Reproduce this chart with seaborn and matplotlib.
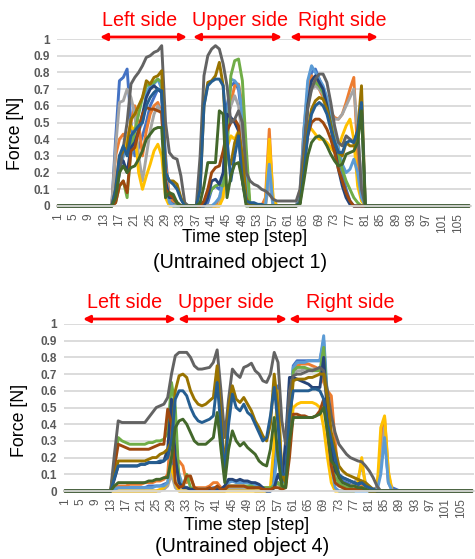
import numpy as np
import pandas as pd
import matplotlib
matplotlib.use("Agg")
import matplotlib.pyplot as plt
import seaborn as sns
from matplotlib.patches import FancyArrowPatch

# ---------------- data ----------------
steps = list(range(1, 109))
series_names = ["S1", "S2", "S3", "S4", "S5", "S6", "S7", "S8", "S9", "S10", "S11", "S12"]
colors = ["#4472C4", "#ED7D31", "#A5A5A5", "#FFC000", "#5B9BD5", "#70AD47",
          "#264478", "#9E480E", "#636363", "#997300", "#255E91", "#43682B"]
xtick_labels = ["1", "5", "9", "13", "17", "21", "25", "29", "33", "37", "41", "45", "49",
                "53", "57", "61", "65", "69", "73", "77", "81", "85", "89", "93", "97", "101", "105"]
xtick_steps = [1, 5, 9, 13, 17, 21, 25, 29, 33, 37, 41, 45, 49, 53, 57, 61, 65, 69, 73, 77,
               81, 85, 89, 93, 97, 101, 105]
ytick_vals = [0, 0.1, 0.2, 0.3, 0.4, 0.5, 0.6, 0.7, 0.8, 0.9, 1.0]
ytick_labels = ["0", "0.1", "0.2", "0.3", "0.4", "0.5", "0.6", "0.7", "0.8", "0.9", "1"]
section_labels = ["Left side", "Upper side", "Right side"]
captions = ["(Untrained object 1)", "(Untrained object 4)"]

# ---- Untrained object 1 ----
t1 = [0,0,0,0,0,0,0,0,0,0,
      0,0,0,0,0,0.4,0.75,0.77,0.82,0.5,
      0.3,0.35,0.42,0.5,0.6,0.65,0.7,0.68,0.3,0.03,
      0.02,0,0,0,0,0,0,0,0,0.02,
      0.1,0.12,0.1,0.15,0.6,0.72,0.74,0.7,0.5,0.1,
      0,0,0,0,0,0,0,0,0,0,
      0,0,0,0.02,0.35,0.65,0.8,0.82,0.76,0.7,
      0.62,0.52,0.4,0.3,0.2,0.1,0.03,0,0,0,
      0,0,0,0,0,0,0,0,0,0,
      0,0,0,0,0,0,0,0,0,0,
      0,0,0,0,0,0,0,0]
t2 = [0,0,0,0,0,0,0,0,0,0,
      0,0,0,0,0,0.3,0.4,0.43,0.4,0.5,
      0.6,0.5,0.3,0.45,0.55,0.6,0.62,0.55,0.25,0.05,
      0.03,0.02,0,0,0,0,0,0,0,0,
      0,0,0.05,0.1,0.5,0.62,0.72,0.73,0.6,0.2,
      0,0,0,0,0.05,0.46,0.02,0,0,0,
      0,0,0,0.05,0.45,0.7,0.78,0.75,0.7,0.65,
      0.6,0.56,0.53,0.52,0.55,0.62,0.7,0.77,0.3,0.05,
      0,0,0,0,0,0,0,0,0,0,
      0,0,0,0,0,0,0,0,0,0,
      0,0,0,0,0,0,0,0]
t3 = [0,0,0,0,0,0,0,0,0,0,
      0,0,0,0,0,0.35,0.62,0.63,0.7,0.65,
      0.55,0.3,0.15,0.3,0.45,0.55,0.6,0.55,0.2,0.02,
      0,0,0,0,0,0,0,0,0,0,
      0,0,0,0.15,0.5,0.6,0.66,0.6,0.4,0.1,
      0,0,0,0,0,0.15,0,0,0,0,
      0,0,0,0.1,0.45,0.62,0.7,0.72,0.7,0.67,
      0.6,0.55,0.52,0.52,0.55,0.6,0.65,0.7,0.45,0.15,
      0,0,0,0,0,0,0,0,0,0,
      0,0,0,0,0,0,0,0,0,0,
      0,0,0,0,0,0,0,0]
t4 = [0,0,0,0,0,0,0,0,0,0,
      0,0,0,0,0,0.05,0.25,0.3,0.4,0.48,
      0.45,0.2,0.1,0.18,0.25,0.33,0.37,0.3,0.05,0,
      0,0,0,0,0,0,0,0,0,0,
      0,0,0,0.05,0.35,0.42,0.4,0.45,0.3,0.05,
      0,0,0,0,0,0.4,0.05,0,0,0,
      0,0,0,0.02,0.3,0.48,0.46,0.43,0.4,0.4,
      0.38,0.35,0.32,0.35,0.42,0.48,0.52,0.4,0.12,0.03,
      0,0,0,0,0,0,0,0,0,0,
      0,0,0,0,0,0,0,0,0,0,
      0,0,0,0,0,0,0,0]
t5 = [0,0,0,0,0,0,0,0,0,0,
      0,0,0,0,0,0.05,0.2,0.3,0.35,0.3,
      0.4,0.45,0.5,0.68,0.72,0.73,0.76,0.7,0.15,0.02,
      0,0,0,0,0,0,0,0,0,0,
      0,0.02,0.05,0.15,0.5,0.76,0.75,0.72,0.55,0.15,
      0,0,0,0,0,0.25,0,0,0,0,
      0,0,0,0.05,0.45,0.75,0.84,0.8,0.76,0.72,
      0.65,0.55,0.45,0.35,0.25,0.2,0.22,0.28,0.2,0.05,
      0,0,0,0,0,0,0,0,0,0,
      0,0,0,0,0,0,0,0,0,0,
      0,0,0,0,0,0,0,0]
t6 = [0,0,0,0,0,0,0,0,0,0,
      0,0,0,0,0,0.02,0.12,0.15,0.05,0.35,
      0.45,0.55,0.65,0.72,0.73,0.74,0.76,0.74,0.1,0.08,
      0.05,0.01,0,0,0,0,0,0,0.02,0.05,
      0.1,0.12,0.13,0.12,0.3,0.78,0.87,0.88,0.75,0.35,
      0,0,0,0,0,0,0,0,0,0,
      0,0,0,0.02,0.3,0.6,0.72,0.74,0.72,0.68,
      0.6,0.5,0.38,0.3,0.22,0.15,0.1,0.05,0.02,0,
      0,0,0,0,0,0,0,0,0,0,
      0,0,0,0,0,0,0,0,0,0,
      0,0,0,0,0,0,0,0]
t7 = [0,0,0,0,0,0,0,0,0,0,
      0,0,0,0,0,0.05,0.25,0.27,0.2,0.35,
      0.38,0.45,0.55,0.65,0.7,0.72,0.7,0.68,0.15,0.05,
      0.05,0.02,0,0,0,0,0,0,0,0.05,
      0.15,0.16,0.13,0.2,0.55,0.53,0.5,0.45,0.15,0.02,
      0,0,0,0,0,0,0,0,0,0,
      0,0,0,0.02,0.3,0.6,0.75,0.78,0.74,0.7,
      0.6,0.48,0.35,0.22,0.12,0.05,0.01,0,0,0,
      0,0,0,0,0,0,0,0,0,0,
      0,0,0,0,0,0,0,0,0,0,
      0,0,0,0,0,0,0,0]
t8 = [0,0,0,0,0,0,0,0,0,0,
      0,0,0,0,0,0.02,0.12,0.15,0.08,0.33,
      0.35,0.45,0.55,0.59,0.58,0.58,0.57,0.56,0.1,0.07,
      0.05,0.02,0,0,0,0,0,0,0.03,0.1,
      0.2,0.23,0.24,0.33,0.45,0.5,0.52,0.48,0.25,0.02,
      0,0,0,0,0,0,0,0,0,0,
      0,0,0,0.02,0.25,0.42,0.5,0.52,0.52,0.5,
      0.46,0.4,0.32,0.22,0.15,0.08,0.03,0,0,0,
      0,0,0,0,0,0,0,0,0,0,
      0,0,0,0,0,0,0,0,0,0,
      0,0,0,0,0,0,0,0]
t9 = [0,0,0,0,0,0,0,0,0,0,
      0,0,0,0,0,0.05,0.2,0.35,0.5,0.73,
      0.77,0.8,0.84,0.89,0.9,0.92,0.93,0.96,0.5,0.32,
      0.29,0.28,0.18,0.02,0,0,0,0.3,0.78,0.9,
      0.94,0.96,0.94,0.85,0.72,0.5,0.52,0.57,0.5,0.2,
      0.15,0.13,0.12,0.1,0.09,0.07,0.04,0.03,0.03,0.03,
      0.03,0.03,0.03,0.1,0.35,0.58,0.7,0.76,0.79,0.79,
      0.74,0.62,0.48,0.38,0.36,0.42,0.4,0.38,0.45,0.1,
      0,0,0,0,0,0,0,0,0,0,
      0,0,0,0,0,0,0,0,0,0,
      0,0,0,0,0,0,0,0]
t10 = [0,0,0,0,0,0,0,0,0,0,
       0,0,0,0,0,0.1,0.3,0.33,0.35,0.52,
       0.55,0.6,0.65,0.75,0.73,0.77,0.78,0.81,0.2,0.15,
       0.15,0.13,0.05,0,0,0,0,0.1,0.6,0.74,
       0.75,0.78,0.86,0.72,0.3,0.25,0.38,0.44,0.3,0.05,
       0,0,0,0,0,0,0,0,0,0,
       0,0,0,0.02,0.25,0.45,0.58,0.63,0.65,0.64,
       0.58,0.48,0.38,0.32,0.3,0.38,0.36,0.36,0.45,0.72,
       0,0,0,0,0,0,0,0,0,0,
       0,0,0,0,0,0,0,0,0,0,
       0,0,0,0,0,0,0,0]
t11 = [0,0,0,0,0,0,0,0,0,0,
       0,0,0,0,0,0.1,0.3,0.36,0.3,0.42,
       0.45,0.48,0.5,0.6,0.65,0.68,0.7,0.69,0.2,0.15,
       0.13,0.1,0.04,0,0,0,0,0.1,0.6,0.72,
       0.745,0.76,0.76,0.72,0.4,0.15,0.3,0.42,0.15,0.03,
       0.02,0.02,0.01,0.01,0,0,0,0,0,0,
       0,0,0,0.02,0.2,0.42,0.55,0.6,0.62,0.6,
       0.55,0.46,0.38,0.32,0.32,0.38,0.39,0.38,0.45,0.62,
       0,0,0,0,0,0,0,0,0,0,
       0,0,0,0,0,0,0,0,0,0,
       0,0,0,0,0,0,0,0]
t12 = [0,0,0,0,0,0,0,0,0,0,
       0,0,0,0,0,0.05,0.2,0.24,0.2,0.23,
       0.24,0.28,0.33,0.4,0.43,0.46,0.47,0.47,0.05,0.08,
       0.07,0.02,0,0,0,0,0,0.02,0.12,0.26,
       0.26,0.26,0.57,0.55,0.05,0.18,0.25,0.26,0.15,0,
       0,0,0,0,0,0,0,0,0,0,
       0,0,0,0.01,0.15,0.3,0.38,0.41,0.42,0.4,
       0.36,0.31,0.27,0.24,0.25,0.31,0.32,0.33,0.38,0.57,
       0,0,0,0,0,0,0,0,0,0,
       0,0,0,0,0,0,0,0,0,0,
       0,0,0,0,0,0,0,0]

# ---- Untrained object 4 ----
b1 = [0,0,0,0,0,0,0,0,0,0,
      0,0,0,0.01,0.02,0.02,0.02,0.02,0.02,0.02,
      0.02,0.02,0.03,0.03,0.03,0.03,0.04,0.05,0.15,0.2,
      0.05,0.02,0.02,0.01,0.01,0.01,0.01,0.01,0.01,0.02,
      0.02,0.01,0.03,0.06,0.06,0.06,0.06,0.05,0.05,0.05,
      0.04,0.03,0.01,0,0.01,0.1,0.63,0.05,0.1,0.45,
      0.75,0.78,0.78,0.78,0.78,0.78,0.78,0.78,0.9,0.5,
      0.2,0.1,0.08,0.06,0.05,0.04,0.03,0.03,0.05,0.02,
      0.01,0.01,0.02,0.2,0.38,0.05,0.02,0.01,0,0,
      0,0,0,0,0,0,0,0,0,0,
      0,0,0,0,0,0,0,0]
b2 = [0,0,0,0,0,0,0,0,0,0,
      0,0,0,0.01,0.03,0.03,0.03,0.04,0.04,0.04,
      0.04,0.05,0.05,0.05,0.06,0.06,0.07,0.1,0.4,0.15,
      0.18,0.15,0.05,0.08,0.02,0.02,0.02,0.02,0.03,0.05,
      0.05,0.02,0.02,0.02,0.02,0.02,0.02,0.02,0.02,0.02,
      0.02,0.02,0.02,0.02,0.02,0.05,0.05,0.02,0.05,0.4,
      0.7,0.75,0.76,0.76,0.76,0.75,0.74,0.72,0.65,0.6,
      0.57,0.3,0.05,0.02,0.01,0.01,0.01,0.01,0.03,0.01,
      0,0,0,0.25,0.44,0.1,0,0,0,0,
      0,0,0,0,0,0,0,0,0,0,
      0,0,0,0,0,0,0,0]
b3 = [0,0,0,0,0,0,0,0,0,0,
      0,0,0,0,0,0,0,0,0,0,
      0,0,0,0,0,0,0.01,0.03,0.1,0.02,
      0,0,0,0,0,0,0,0,0,0,
      0,0,0,0.01,0.01,0.01,0.01,0.01,0.01,0.01,
      0,0,0,0,0,0.02,0.05,0.02,0.1,0.5,
      0.7,0.72,0.72,0.73,0.73,0.73,0.73,0.74,0.7,0.5,
      0.2,0.1,0.06,0.04,0.03,0.03,0.05,0.08,0.15,0.05,
      0.02,0.01,0.01,0.15,0.38,0.05,0,0,0,0,
      0,0,0,0,0,0,0,0,0,0,
      0,0,0,0,0,0,0,0]
b4 = [0,0,0,0,0,0,0,0,0,0,
      0,0,0,0,0,0,0,0,0,0,
      0,0,0,0,0,0.01,0.02,0.05,0.15,0.05,
      0,0,0,0,0,0,0,0,0,0,
      0,0,0,0,0,0,0,0,0,0,
      0,0,0,0,0.02,0.3,0.6,0.1,0.05,0.3,
      0.5,0.52,0.53,0.53,0.53,0.53,0.52,0.5,0.38,0.2,
      0.05,0,0,0,0,0,0,0.05,0.2,0.02,
      0,0,0,0.38,0.45,0.12,0,0,0,0,
      0,0,0,0,0,0,0,0,0,0,
      0,0,0,0,0,0,0,0]
b5 = [0,0,0,0,0,0,0,0,0,0,
      0,0,0,0.01,0.02,0.02,0.02,0.02,0.02,0.02,
      0.02,0.02,0.02,0.02,0.03,0.03,0.03,0.05,0.2,0.2,
      0.1,0.03,0.02,0.01,0.01,0.01,0.01,0.01,0.01,0.01,
      0.01,0.01,0.02,0.05,0.06,0.05,0.05,0.05,0.05,0.04,
      0.04,0.03,0.01,0,0,0.05,0.3,0.05,0.05,0.4,
      0.74,0.77,0.77,0.77,0.78,0.78,0.78,0.78,0.93,0.55,
      0.15,0.02,0,0,0,0,0,0,0,0,
      0,0,0,0.1,0.32,0.05,0,0,0,0,
      0,0,0,0,0,0,0,0,0,0,
      0,0,0,0,0,0,0,0]
b6 = [0,0,0,0,0,0,0,0,0,0,
      0,0,0,0.15,0.32,0.3,0.29,0.28,0.28,0.28,
      0.28,0.28,0.29,0.29,0.3,0.3,0.31,0.35,0.65,0.5,
      0.05,0.02,0.1,0.02,0.01,0.01,0.01,0.01,0.01,0.01,
      0.02,0.01,0.01,0.03,0.03,0.03,0.03,0.03,0.03,0.03,
      0.02,0.02,0.02,0.02,0.02,0.03,0.05,0.02,0.05,0.35,
      0.72,0.74,0.74,0.74,0.73,0.72,0.72,0.72,0.86,0.5,
      0.2,0.08,0.05,0.03,0.02,0.02,0.01,0.01,0.02,0.01,
      0,0,0,0,0,0,0,0,0,0,
      0,0,0,0,0,0,0,0,0,0,
      0,0,0,0,0,0,0,0]
b7 = [0,0,0,0,0,0,0,0,0,0,
      0,0,0,0.07,0.15,0.15,0.15,0.15,0.15,0.15,
      0.16,0.16,0.17,0.17,0.17,0.17,0.18,0.25,0.55,0.2,
      0.05,0.02,0.02,0.01,0.01,0.01,0.01,0.01,0.01,0.01,
      0.01,0.01,0.03,0.07,0.07,0.06,0.07,0.06,0.06,0.05,
      0.05,0.04,0.02,0,0,0.02,0.1,0.05,0.3,0.68,
      0.68,0.67,0.66,0.65,0.64,0.62,0.62,0.62,0.8,0.45,
      0.25,0.12,0.09,0.08,0.07,0.06,0.05,0.04,0.06,0.03,
      0.02,0.01,0,0,0,0,0,0,0,0,
      0,0,0,0,0,0,0,0,0,0,
      0,0,0,0,0,0,0,0]
b8 = [0,0,0,0,0,0,0,0,0,0,
      0,0,0,0.14,0.28,0.27,0.26,0.25,0.25,0.25,
      0.25,0.25,0.25,0.26,0.27,0.28,0.28,0.49,0.4,0.05,
      0.02,0.03,0.09,0.09,0.02,0.01,0.01,0.01,0.02,0.01,
      0.03,0.01,0.01,0.03,0.03,0.03,0.03,0.03,0.02,0.02,
      0.02,0.02,0.01,0.01,0.01,0.02,0.02,0.01,0.02,0.2,
      0.46,0.46,0.45,0.45,0.44,0.44,0.45,0.48,0.55,0.35,
      0.15,0.05,0.03,0.02,0.01,0.01,0.01,0.01,0.01,0.01,
      0,0,0,0,0,0,0,0,0,0,
      0,0,0,0,0,0,0,0,0,0,
      0,0,0,0,0,0,0,0]
b9 = [0,0,0,0,0,0,0,0,0,0,
      0,0,0,0.22,0.42,0.41,0.41,0.41,0.41,0.41,
      0.41,0.41,0.44,0.47,0.5,0.51,0.52,0.56,0.7,0.81,
      0.83,0.83,0.83,0.8,0.75,0.73,0.73,0.735,0.74,0.77,
      0.845,0.6,0.32,0.55,0.73,0.7,0.68,0.74,0.75,0.765,
      0.72,0.7,0.66,0.65,0.7,0.83,0.77,0.42,0.28,0.6,
      0.69,0.7,0.7,0.71,0.72,0.72,0.73,0.74,0.72,0.6,
      0.45,0.35,0.28,0.25,0.22,0.2,0.19,0.18,0.175,0.15,
      0.12,0.08,0.03,0,0,0,0,0,0,0,
      0,0,0,0,0,0,0,0,0,0,
      0,0,0,0,0,0,0,0]
b10 = [0,0,0,0,0,0,0,0,0,0,
       0,0,0,0.09,0.18,0.18,0.18,0.18,0.18,0.18,
       0.18,0.18,0.19,0.2,0.2,0.22,0.23,0.25,0.3,0.6,
       0.69,0.7,0.68,0.6,0.55,0.52,0.51,0.52,0.54,0.56,
       0.75,0.45,0.12,0.5,0.63,0.55,0.53,0.56,0.52,0.48,
       0.42,0.38,0.33,0.3,0.4,0.7,0.5,0.1,0.05,0.4,
       0.66,0.67,0.67,0.67,0.68,0.68,0.69,0.7,0.7,0.55,
       0.35,0.25,0.15,0.12,0.1,0.09,0.08,0.07,0.06,0.05,
       0.03,0.01,0,0,0,0,0,0,0,0,
       0,0,0,0,0,0,0,0,0,0,
       0,0,0,0,0,0,0,0]
b11 = [0,0,0,0,0,0,0,0,0,0,
       0,0,0,0.08,0.15,0.15,0.15,0.15,0.15,0.15,
       0.16,0.16,0.17,0.17,0.17,0.18,0.18,0.2,0.3,0.55,
       0.6,0.6,0.57,0.5,0.45,0.42,0.41,0.42,0.43,0.45,
       0.65,0.38,0.1,0.4,0.58,0.5,0.48,0.52,0.47,0.45,
       0.4,0.35,0.3,0.32,0.45,0.62,0.4,0.1,0.1,0.45,
       0.6,0.6,0.6,0.6,0.6,0.61,0.61,0.6,0.55,0.4,
       0.3,0.2,0.1,0.08,0.07,0.06,0.05,0.04,0.05,0.03,
       0.02,0.01,0,0,0,0,0,0,0,0,
       0,0,0,0,0,0,0,0,0,0,
       0,0,0,0,0,0,0,0]
b12 = [0,0,0,0,0,0,0,0,0,0,
       0,0,0,0.03,0.05,0.05,0.05,0.05,0.05,0.05,
       0.05,0.05,0.06,0.06,0.07,0.07,0.08,0.08,0.2,0.38,
       0.42,0.43,0.4,0.35,0.3,0.28,0.28,0.28,0.3,0.32,
       0.47,0.25,0.05,0.25,0.36,0.3,0.27,0.29,0.26,0.24,
       0.22,0.18,0.16,0.15,0.25,0.44,0.2,0.03,0.02,0.3,
       0.44,0.44,0.44,0.44,0.44,0.44,0.45,0.46,0.5,0.35,
       0.18,0.15,0.08,0.05,0.04,0.03,0.03,0.02,0.02,0.01,
       0,0,0,0,0,0,0,0,0,0,
       0,0,0,0,0,0,0,0,0,0,
       0,0,0,0,0,0,0,0]

top_series = [t1, t2, t3, t4, t5, t6, t7, t8, t9, t10, t11, t12]
bottom_series = [b1, b2, b3, b4, b5, b6, b7, b8, b9, b10, b11, b12]

# ---------------- style ----------------
sns.set_theme(style="white")
plt.rcParams["font.family"] = ["Liberation Sans", "DejaVu Sans"]

W, H = 475, 559
fig = plt.figure(figsize=(W / 100, H / 100), dpi=100)


def fx(x):
    return x / W


def fy(y):
    return 1 - y / H


def draw_panel(ax, data):
    frames = []
    for name, vals in zip(series_names, data):
        frames.append(pd.DataFrame({"step": steps, "force": vals, "series": name}))
    df = pd.concat(frames, ignore_index=True)
    sns.lineplot(data=df, x="step", y="force", hue="series", hue_order=series_names,
                 palette=colors, estimator=None, legend=False, ax=ax,
                 linewidth=2.1, clip_on=False, solid_joinstyle="round",
                 solid_capstyle="round")
    ax.set_xlim(0.75, 108.5)
    ax.set_ylim(0, 1.0)
    ax.set_yticks(ytick_vals)
    ax.set_yticklabels(ytick_labels, color="#595959", fontsize=8.5, fontweight="bold")
    ax.set_xticks(xtick_steps)
    ax.set_xticklabels(xtick_labels, rotation=90, color="#595959", fontsize=8.6)
    ax.tick_params(axis="both", length=0)
    ax.tick_params(axis="y", pad=5)
    ax.tick_params(axis="x", pad=5)
    ax.yaxis.grid(True, color="#d9d9d9", linewidth=1.3)
    ax.xaxis.grid(False)
    ax.set_axisbelow(True)
    for side in ["top", "right", "left"]:
        ax.spines[side].set_visible(False)
    ax.spines["bottom"].set_color("#d9d9d9")
    ax.spines["bottom"].set_linewidth(1.3)
    ax.set_xlabel("")
    ax.set_ylabel("")
    ax.set_facecolor("white")


ax_top = fig.add_axes([fx(57), fy(206), 414 / W, 167 / H])
draw_panel(ax_top, top_series)
ax_bot = fig.add_axes([fx(64), fy(491), 410 / W, 167 / H])
draw_panel(ax_bot, bottom_series)

# axis labels and captions
fig.text(fx(15), fy(133), "Force [N]", rotation=90, ha="center", va="center", fontsize=12.8, color="black")
fig.text(fx(19), fy(420), "Force [N]", rotation=90, ha="center", va="center", fontsize=12.8, color="black")
fig.text(fx(245), fy(238), "Time step [step]", ha="center", va="center", fontsize=12.8, color="black")
fig.text(fx(247), fy(525), "Time step [step]", ha="center", va="center", fontsize=12.8, color="black")
fig.text(fx(240), fy(263), captions[0], ha="center", va="center", fontsize=14.2, color="black")
fig.text(fx(242), fy(546), captions[1], ha="center", va="center", fontsize=14.2, color="black")

# section labels with double arrows
top_label_x = [140, 240, 342]
bot_label_x = [125, 226, 350]
for lab, x in zip(section_labels, top_label_x):
    fig.text(fx(x), fy(21), lab, ha="center", va="center", fontsize=14.2, color="#FF0000")
for lab, x in zip(section_labels, bot_label_x):
    fig.text(fx(x), fy(303), lab, ha="center", va="center", fontsize=14.2, color="#FF0000")

top_arrows = [(100, 187), (193, 282), (290, 378)]
bot_arrows = [(83, 176), (178, 287), (289, 404)]
for (x0, x1) in top_arrows:
    fig.patches.append(FancyArrowPatch((fx(x0), fy(37)), (fx(x1), fy(37)), transform=fig.transFigure,
                                       arrowstyle="<|-|>", mutation_scale=10, color="#FF0000", lw=2,
                                       shrinkA=0, shrinkB=0))
for (x0, x1) in bot_arrows:
    fig.patches.append(FancyArrowPatch((fx(x0), fy(319)), (fx(x1), fy(319)), transform=fig.transFigure,
                                       arrowstyle="<|-|>", mutation_scale=10, color="#FF0000", lw=2,
                                       shrinkA=0, shrinkB=0))

fig.savefig("out.png", dpi=100, facecolor="white")
